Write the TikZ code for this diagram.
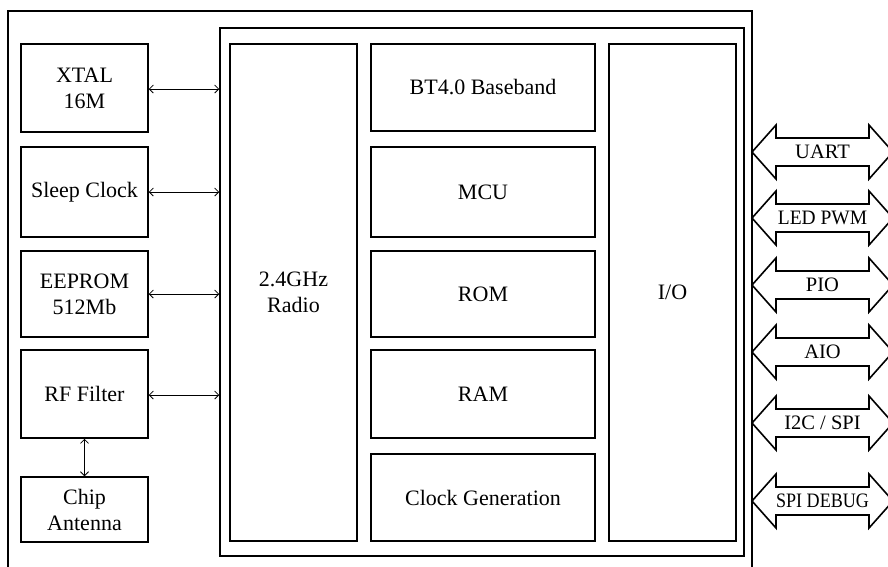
\documentclass[tikz,border=0pt]{standalone}
\usepackage{fontspec}
\setmainfont{Liberation Serif}
\usetikzlibrary{arrows.meta}
\begin{document}
\begin{tikzpicture}[x=1pt,y=-1pt,
  blk/.style={draw, line width=1.5pt, inner sep=0pt, align=center, font=\fontsize{22}{26}\selectfont},
  link/.style={{Straight Barb[length=4pt,width=8pt]}-{Straight Barb[length=4pt,width=8pt]}, line width=0.8pt},
  bus/.style={draw, line width=1.6pt, line join=miter, fill=white},
  buslabel/.style={inner sep=0pt, font=\fontsize{20.5}{22}\selectfont}]
\useasboundingbox (0,0) rectangle (888,566);
\clip (0,0) rectangle (888,566);
\fill[white] (0,0) rectangle (888,566);
% frames
\node[blk, minimum width=744, minimum height=600] (outer) at (380,311) {};
\node[blk, minimum width=524, minimum height=528] (inner) at (482,292) {};
% left column
\node[blk, minimum width=127, minimum height=88] (xtal) at (84.5,88) {XTAL\\16M};
\node[blk, minimum width=127, minimum height=90] (sleep) at (84.5,192) {Sleep Clock};
\node[blk, minimum width=127, minimum height=86] (eeprom) at (84.5,294) {EEPROM\\512Mb};
\node[blk, minimum width=127, minimum height=88] (rf) at (84.5,394) {RF Filter};
\node[blk, minimum width=127, minimum height=65] (chip) at (84.5,509.5) {Chip\\Antenna};
% radio
\node[blk, minimum width=127, minimum height=497] (radio) at (293.5,292.5) {2.4GHz\\Radio};
% middle column
\node[blk, minimum width=224, minimum height=87] (bt) at (483,87.5) {BT4.0 Baseband};
\node[blk, minimum width=224, minimum height=90] (mcu) at (483,192) {MCU};
\node[blk, minimum width=224, minimum height=86] (rom) at (483,294) {ROM};
\node[blk, minimum width=224, minimum height=88] (ram) at (483,394) {RAM};
\node[blk, minimum width=224, minimum height=87] (clk) at (483,497.5) {Clock Generation};
% I/O
\node[blk, minimum width=127, minimum height=497] (io) at (672.5,292.5) {I/O};
% left links
\draw[link] ([yshift=-1pt]xtal.east) -- ([yshift=-1pt]xtal.east -| inner.west);
\draw[link] (sleep.east) -- (sleep.east -| inner.west);
\draw[link] (eeprom.east) -- (eeprom.east -| inner.west);
\draw[link] ([yshift=-1pt]rf.east) -- ([yshift=-1pt]rf.east -| inner.west);
\draw[link] (rf.south) -- (chip.north);
% right bus arrows
\foreach \yc/\nm in {152/uart, 218/led, 285/pio, 352/aio, 423/iic, 501/spid}{
  \coordinate (\nm) at (752,\yc);
  \draw[bus] (\nm) -- ++(24,-27) -- ++(0,13) -- ++(93,0) -- ++(0,-13) -- ++(24,27)
     -- ++(-24,27) -- ++(0,-13) -- ++(-93,0) -- ++(0,13) -- cycle;
}
\node[buslabel] (uartl) at ([xshift=70.5pt]uart) {UART};
\node[buslabel] (ledl) at ([xshift=70.5pt]led) {\scalebox{0.95}[1]{LED PWM}};
\node[buslabel] (piol) at ([xshift=70.5pt]pio) {PIO};
\node[buslabel] (aiol) at ([xshift=70.5pt]aio) {AIO};
\node[buslabel] (iicl) at ([xshift=70.5pt]iic) {I2C / SPI};
\node[buslabel] (spidl) at ([xshift=70.5pt]spid) {\scalebox{0.88}[1]{SPI DEBUG}};
\end{tikzpicture}
\end{document}
